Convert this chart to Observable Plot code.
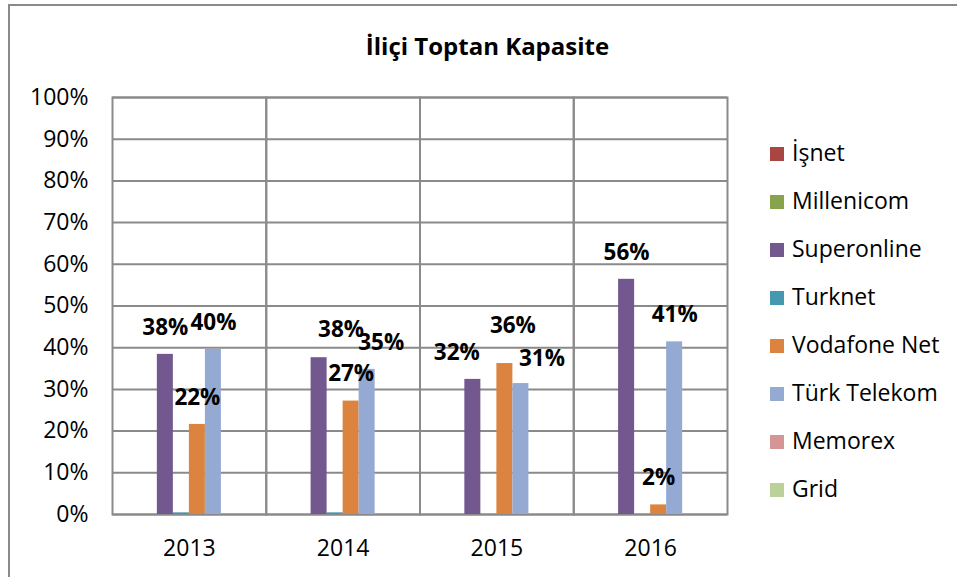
<!DOCTYPE html>
<html>
<head>
<meta charset="utf-8">
<script src="https://cdn.jsdelivr.net/npm/d3@7"></script>
<script src="https://cdn.jsdelivr.net/npm/@observablehq/plot@0.6"></script>
<style>
  html, body { margin: 0; padding: 0; background: #fff; }
  #wrap { position: relative; width: 957px; height: 577px; overflow: hidden; font-family: "Open Sans", sans-serif; }
  #frame { position: absolute; left: 8px; top: 4px; width: 960px; height: 600px; border: 2px solid #8a8a8a; box-sizing: border-box; }
  #title { position: absolute; left: 9px; width: 957px; top: 31px; text-align: center; font-weight: bold; font-size: 24px; line-height: 30px; color: #000; }
  #chart { position: absolute; left: 0; top: 0; }
  #legend { position: absolute; left: 770px; top: 143px; }
  .li { position: absolute; left: 0; height: 24px; white-space: nowrap; font-size: 23px; color: #000; }
  .sw { position: absolute; left: 0; top: 6px; width: 14px; height: 14px; }
  .lt { position: absolute; left: 22px; top: 0px; line-height: 23px; }
</style>
</head>
<body>
<div id="wrap">
  <div id="frame"></div>
  <div id="title">İliçi Toptan Kapasite</div>
  <div id="chart"></div>
  <div id="legend"></div>
</div>
<script>
const years = ["2013", "2014", "2015", "2016"];
const series = ["İşnet", "Millenicom", "Superonline", "Turknet", "Vodafone Net", "Türk Telekom", "Memorex", "Grid"];
const colors = ["#A94543", "#88A34C", "#72588F", "#4499B0", "#DC843F", "#95AAD3", "#D49594", "#BCD09A"];
const isnet = [0, 0, 0, 0];
const millenicom = [0, 0, 0, 0];
const superonline = [38.4, 37.6, 32.4, 56.4];
const turknet = [0.4, 0.4, 0, 0];
const vodafone = [21.6, 27.2, 36.2, 2.3];
const turkTelekom = [39.6, 34.8, 31.4, 41.4];
const memorex = [0, 0.2, 0, 0];
const grid = [0, 0, 0, 0];
const yTicks = [0, 10, 20, 30, 40, 50, 60, 70, 80, 90, 100];

const seriesValues = [isnet, millenicom, superonline, turknet, vodafone, turkTelekom, memorex, grid];
const rows = [];
years.forEach((yr, i) => {
  series.forEach((s, j) => {
    rows.push({year: yr, series: s, value: seriesValues[j][i]});
  });
});

// label placement tweaks (as in the reference, some labels are moved to avoid overlaps)
const nudges = {
  "2014|Superonline": [22, -28],
  "2014|Türk Telekom": [14, -27],
  "2015|Superonline": [-16, -27],
  "2015|Vodafone Net": [8, -38],
  "2015|Türk Telekom": [21, -25]
};
const key = d => d.year + "|" + d.series;
const labelled = rows.filter(d => d.value >= 1);
const textOpts = {fx: "year", x: "series", y: "value", text: d => Math.round(d.value) + "%", fontWeight: "bold", fontSize: 22.5, fill: "#000"};

const gridColor = "#8a8a8a";

const chart = Plot.plot({
  width: 957,
  height: 577,
  marginTop: 97,
  marginBottom: 63,
  marginLeft: 112,
  marginRight: 230,
  style: {fontFamily: "Open Sans, sans-serif", fontSize: "23px", color: "#000", background: "transparent"},
  fx: {domain: years, padding: 0, round: false, label: null, axis: "bottom", tickSize: 0, tickPadding: 25},
  x: {domain: series, paddingInner: 0, paddingOuter: 0.8, round: false, axis: null},
  y: {domain: [0, 100], ticks: yTicks, tickFormat: d => d + "%", tickSize: 0, tickPadding: 24, label: null},
  color: {domain: series, range: colors},
  marks: [
    Plot.ruleY(yTicks, {stroke: gridColor, strokeWidth: 2}),
    Plot.frame({stroke: gridColor, strokeWidth: 2}),
    Plot.barY(rows, {fx: "year", x: "series", y: "value", fill: "series", inset: 0}),
    Plot.text(labelled.filter(d => !(key(d) in nudges)), {...textOpts, dy: -27}),
    ...labelled.filter(d => key(d) in nudges).map(d =>
      Plot.text([d], {...textOpts, dx: nudges[key(d)][0], dy: nudges[key(d)][1]}))
  ]
});
document.getElementById("chart").appendChild(chart);

const legend = document.getElementById("legend");
series.forEach((s, i) => {
  const li = document.createElement("div");
  li.className = "li";
  li.style.top = (i * 48 - 2) + "px";
  li.innerHTML = `<div class="sw" style="background:${colors[i]}"></div><div class="lt">${s}</div>`;
  legend.appendChild(li);
});
</script>
</body>
</html>
